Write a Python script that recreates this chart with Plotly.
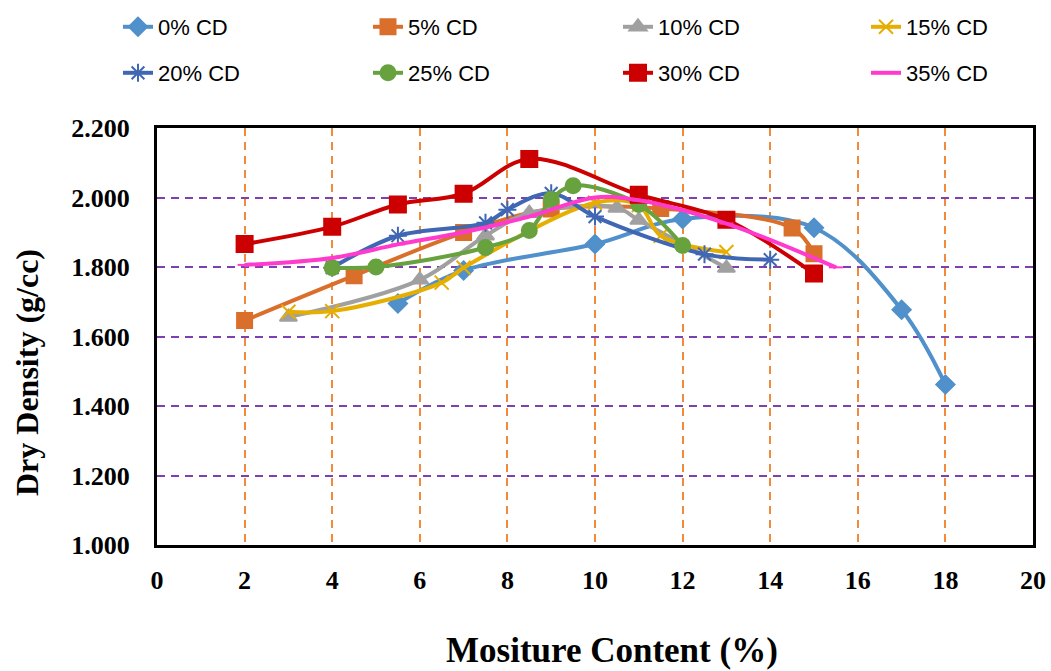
import plotly.graph_objects as go

# Moisture content (%) and dry density (g/cc) for each CD percentage
cd0_x = [5.5, 7, 10, 12, 15, 17, 18]
cd0_y = [1.695, 1.790, 1.866, 1.938, 1.913, 1.677, 1.462]

cd5_x = [2, 4.5, 7, 9, 11.5, 14.5, 15]
cd5_y = [1.646, 1.775, 1.899, 1.967, 1.968, 1.912, 1.838]

cd10_x = [3, 6, 7.5, 8.5, 10.5, 11, 13]
cd10_y = [1.656, 1.763, 1.890, 1.955, 1.970, 1.935, 1.797]

cd15_x = [3, 4, 6.5, 7, 10, 11, 11.5, 13]
cd15_y = [1.671, 1.673, 1.755, 1.798, 1.985, 1.978, 1.890, 1.843]

cd20_x = [4, 5.5, 7.5, 8, 9, 10, 12.5, 14]
cd20_y = [1.798, 1.890, 1.927, 1.965, 2.012, 1.945, 1.837, 1.821]

cd25_x = [4, 5, 7.5, 8.5, 9, 9.5, 11, 12]
cd25_y = [1.798, 1.800, 1.856, 1.905, 1.994, 2.034, 1.980, 1.862]

cd30_x = [2, 4, 5.5, 7, 8.5, 11, 13, 15]
cd30_y = [1.866, 1.916, 1.980, 2.011, 2.111, 2.008, 1.936, 1.781]

cd35_x = [2, 4, 5.5, 7, 8.5, 10, 11, 13, 15.5]
cd35_y = [1.806, 1.826, 1.865, 1.900, 1.945, 2.000, 1.992, 1.925, 1.799]

series_names = ["0% CD", "5% CD", "10% CD", "15% CD",
                "20% CD", "25% CD", "30% CD", "35% CD"]
x_ticks = [0, 2, 4, 6, 8, 10, 12, 14, 16, 18, 20]
y_ticks = [1.0, 1.2, 1.4, 1.6, 1.8, 2.0, 2.2]

data = [(cd0_x, cd0_y), (cd5_x, cd5_y), (cd10_x, cd10_y), (cd15_x, cd15_y),
        (cd20_x, cd20_y), (cd25_x, cd25_y), (cd30_x, cd30_y), (cd35_x, cd35_y)]

colors = ["#5090CB", "#DA6E2B", "#A0A0A0", "#E5AE00",
          "#3F67B3", "#67A23F", "#CC0000", "#FF3ACD"]
symbols = ["diamond", "square", "triangle-up", "x-thin-open",
           "asterisk-open", "circle", "square", "line-ew-open"]
sizes = [14, 15, 15, 14, 15, 15, 16, 10]

W, H = 1051, 671
L, R, T, B = 157, 18, 128, 126
pw = W - L - R
ph = H - T - B

# legend entries: two rows of four, positioned in container pixels
legend_cols = [118, 368, 618, 866]
legend_rows = [27, 73]

fig = go.Figure()
layout_legends = {}
for i, ((xs, ys), name) in enumerate(zip(data, series_names)):
    key = "legend" if i == 0 else f"legend{i + 1}"
    sym_line = dict(color=colors[i], width=2)
    fig.add_trace(go.Scatter(
        x=xs, y=ys, name=name, mode="lines+markers",
        line=dict(color=colors[i], width=4, shape="spline", smoothing=1.0),
        marker=dict(symbol=symbols[i], size=sizes[i], color=colors[i],
                    line=sym_line),
        legend=key,
    ))
    col, row = legend_cols[i % 4], legend_rows[i // 4]
    layout_legends[key] = dict(
        xref="container", yref="container",
        x=col / W, y=1 - row / H,
        xanchor="left", yanchor="middle",
        orientation="h", bgcolor="rgba(0,0,0,0)",
        font=dict(family="Liberation Sans, Arial, sans-serif", size=22, color="#000000"),
        itemclick=False,
    )

fig.update_layout(
    width=W, height=H,
    margin=dict(l=L, r=R, t=T, b=B, pad=0, autoexpand=False),
    paper_bgcolor="white", plot_bgcolor="white",
    showlegend=True,
    **layout_legends,
)

fig.update_xaxes(
    range=[0, 20], tickvals=x_ticks, ticktext=[str(v) for v in x_ticks],
    showgrid=True, gridcolor="#F08A3C", griddash="8px,6px", gridwidth=2,
    showline=True, linecolor="#000000", linewidth=3, mirror=True,
    ticks="", zeroline=False, ticklabelstandoff=10,
    tickfont=dict(family="Liberation Serif, Times New Roman, serif", size=26, color="#000000", weight="bold"),
)
fig.update_yaxes(
    range=[1.0, 2.2], tickvals=y_ticks, ticktext=[f"{v:.3f}" for v in y_ticks],
    showgrid=True, gridcolor="#7E3FB0", griddash="8px,6px", gridwidth=2,
    showline=True, linecolor="#000000", linewidth=3, mirror=True,
    ticks="", zeroline=False, ticklabelstandoff=19,
    tickfont=dict(family="Liberation Serif, Times New Roman, serif", size=26, color="#000000", weight="bold"),
)

title_font = dict(family="Liberation Serif, Times New Roman, serif", color="#000000", weight="bold")
fig.add_annotation(
    text="Mositure Content (%)", xref="paper", yref="paper",
    x=(612 - L) / pw, y=-(650 - (H - B)) / ph, showarrow=False,
    xanchor="center", yanchor="middle", font=dict(size=35, **title_font),
)
fig.add_annotation(
    text="Dry Density (g/cc)", xref="paper", yref="paper",
    x=(27 - L) / pw, y=(H - B - 373) / ph, showarrow=False, textangle=-90,
    xanchor="center", yanchor="middle", font=dict(size=32, **title_font),
)

fig.write_html("out.html")
